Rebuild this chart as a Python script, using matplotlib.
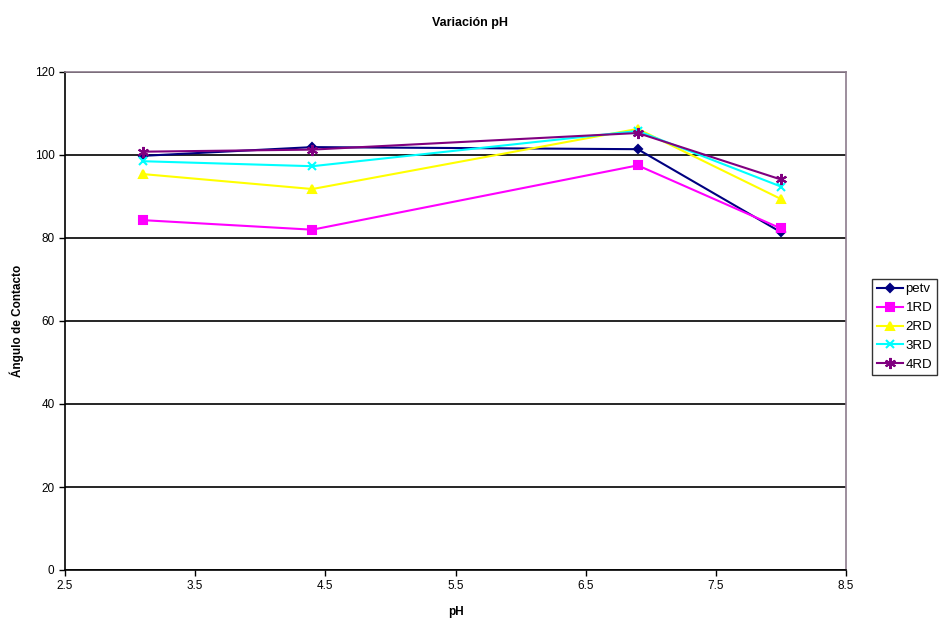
import matplotlib.pyplot as plt
import matplotlib.ticker as mticker
from matplotlib import rcParams

config = {"font.family": ['Liberation Sans', 'DejaVu Sans'], "font.size": 8}
rcParams.update(config)

ph = [3.1, 4.4, 6.9, 8.0]
petv = [99.8, 101.9, 101.4, 81.4]
rd1 = [84.3, 82.0, 97.5, 82.3]
rd2 = [95.4, 91.8, 106.3, 89.4]
rd3 = [98.5, 97.3, 105.8, 92.4]
rd4 = [100.8, 101.3, 105.3, 94.1]
xticks = [2.5, 3.5, 4.5, 5.5, 6.5, 7.5, 8.5]

series = [
    ('petv', petv, '#000080', 'D', 4),
    ('1RD', rd1, '#ff00ff', 's', 6),
    ('2RD', rd2, '#ffff00', '^', 6),
    ('3RD', rd3, '#00ffff', 'x', 6),
    ('4RD', rd4, '#800080', (6, 2, 0), 8),
]

fig = plt.figure(figsize=(9.41, 6.19), dpi=100)
ax = fig.add_axes([65 / 941, 49 / 619, 781 / 941, 498 / 619])

for name, vals, c, m, ms in series:
    ax.plot(ph, vals, color=c, marker=m, markersize=ms, linewidth=1.5,
            markerfacecolor=c, markeredgecolor=c, markeredgewidth=1.5, label=name)

ax.set_xlim(2.5, 8.5)
ax.set_ylim(0, 120)
ax.set_xticks(xticks)
ax.xaxis.set_major_formatter(mticker.FormatStrFormatter('%.1f'))
ax.yaxis.set_major_locator(mticker.MultipleLocator(20))
ax.yaxis.grid(True, color='black', linewidth=1.2)
ax.set_axisbelow(True)

for s in ['top', 'right']:
    ax.spines[s].set_color('#8c7c8c')
    ax.spines[s].set_linewidth(1.2)
for s in ['left', 'bottom']:
    ax.spines[s].set_color('black')
    ax.spines[s].set_linewidth(1.2)
ax.tick_params(direction='out', length=4, width=1, labelsize=8.5, colors='black')

ax.set_xlabel('pH', fontweight='bold', fontsize=8.5, labelpad=10)
ax.set_ylabel('Ángulo de Contacto', fontweight='bold', fontsize=8.5, labelpad=8)
fig.text(0.5, 1 - 23 / 619, 'Variación pH', ha='center', va='center',
         fontweight='bold', fontsize=9)

leg = ax.legend(loc='center left', bbox_to_anchor=(872 / 941, 1 - 327 / 619),
                bbox_transform=fig.transFigure, frameon=True, fancybox=False,
                edgecolor='black', fontsize=9.5, handlelength=2.0,
                labelspacing=0.5, borderpad=0.35, handletextpad=0.2,
                borderaxespad=0)
leg.get_frame().set_linewidth(1.0)

fig.savefig('out.png', dpi=100)
